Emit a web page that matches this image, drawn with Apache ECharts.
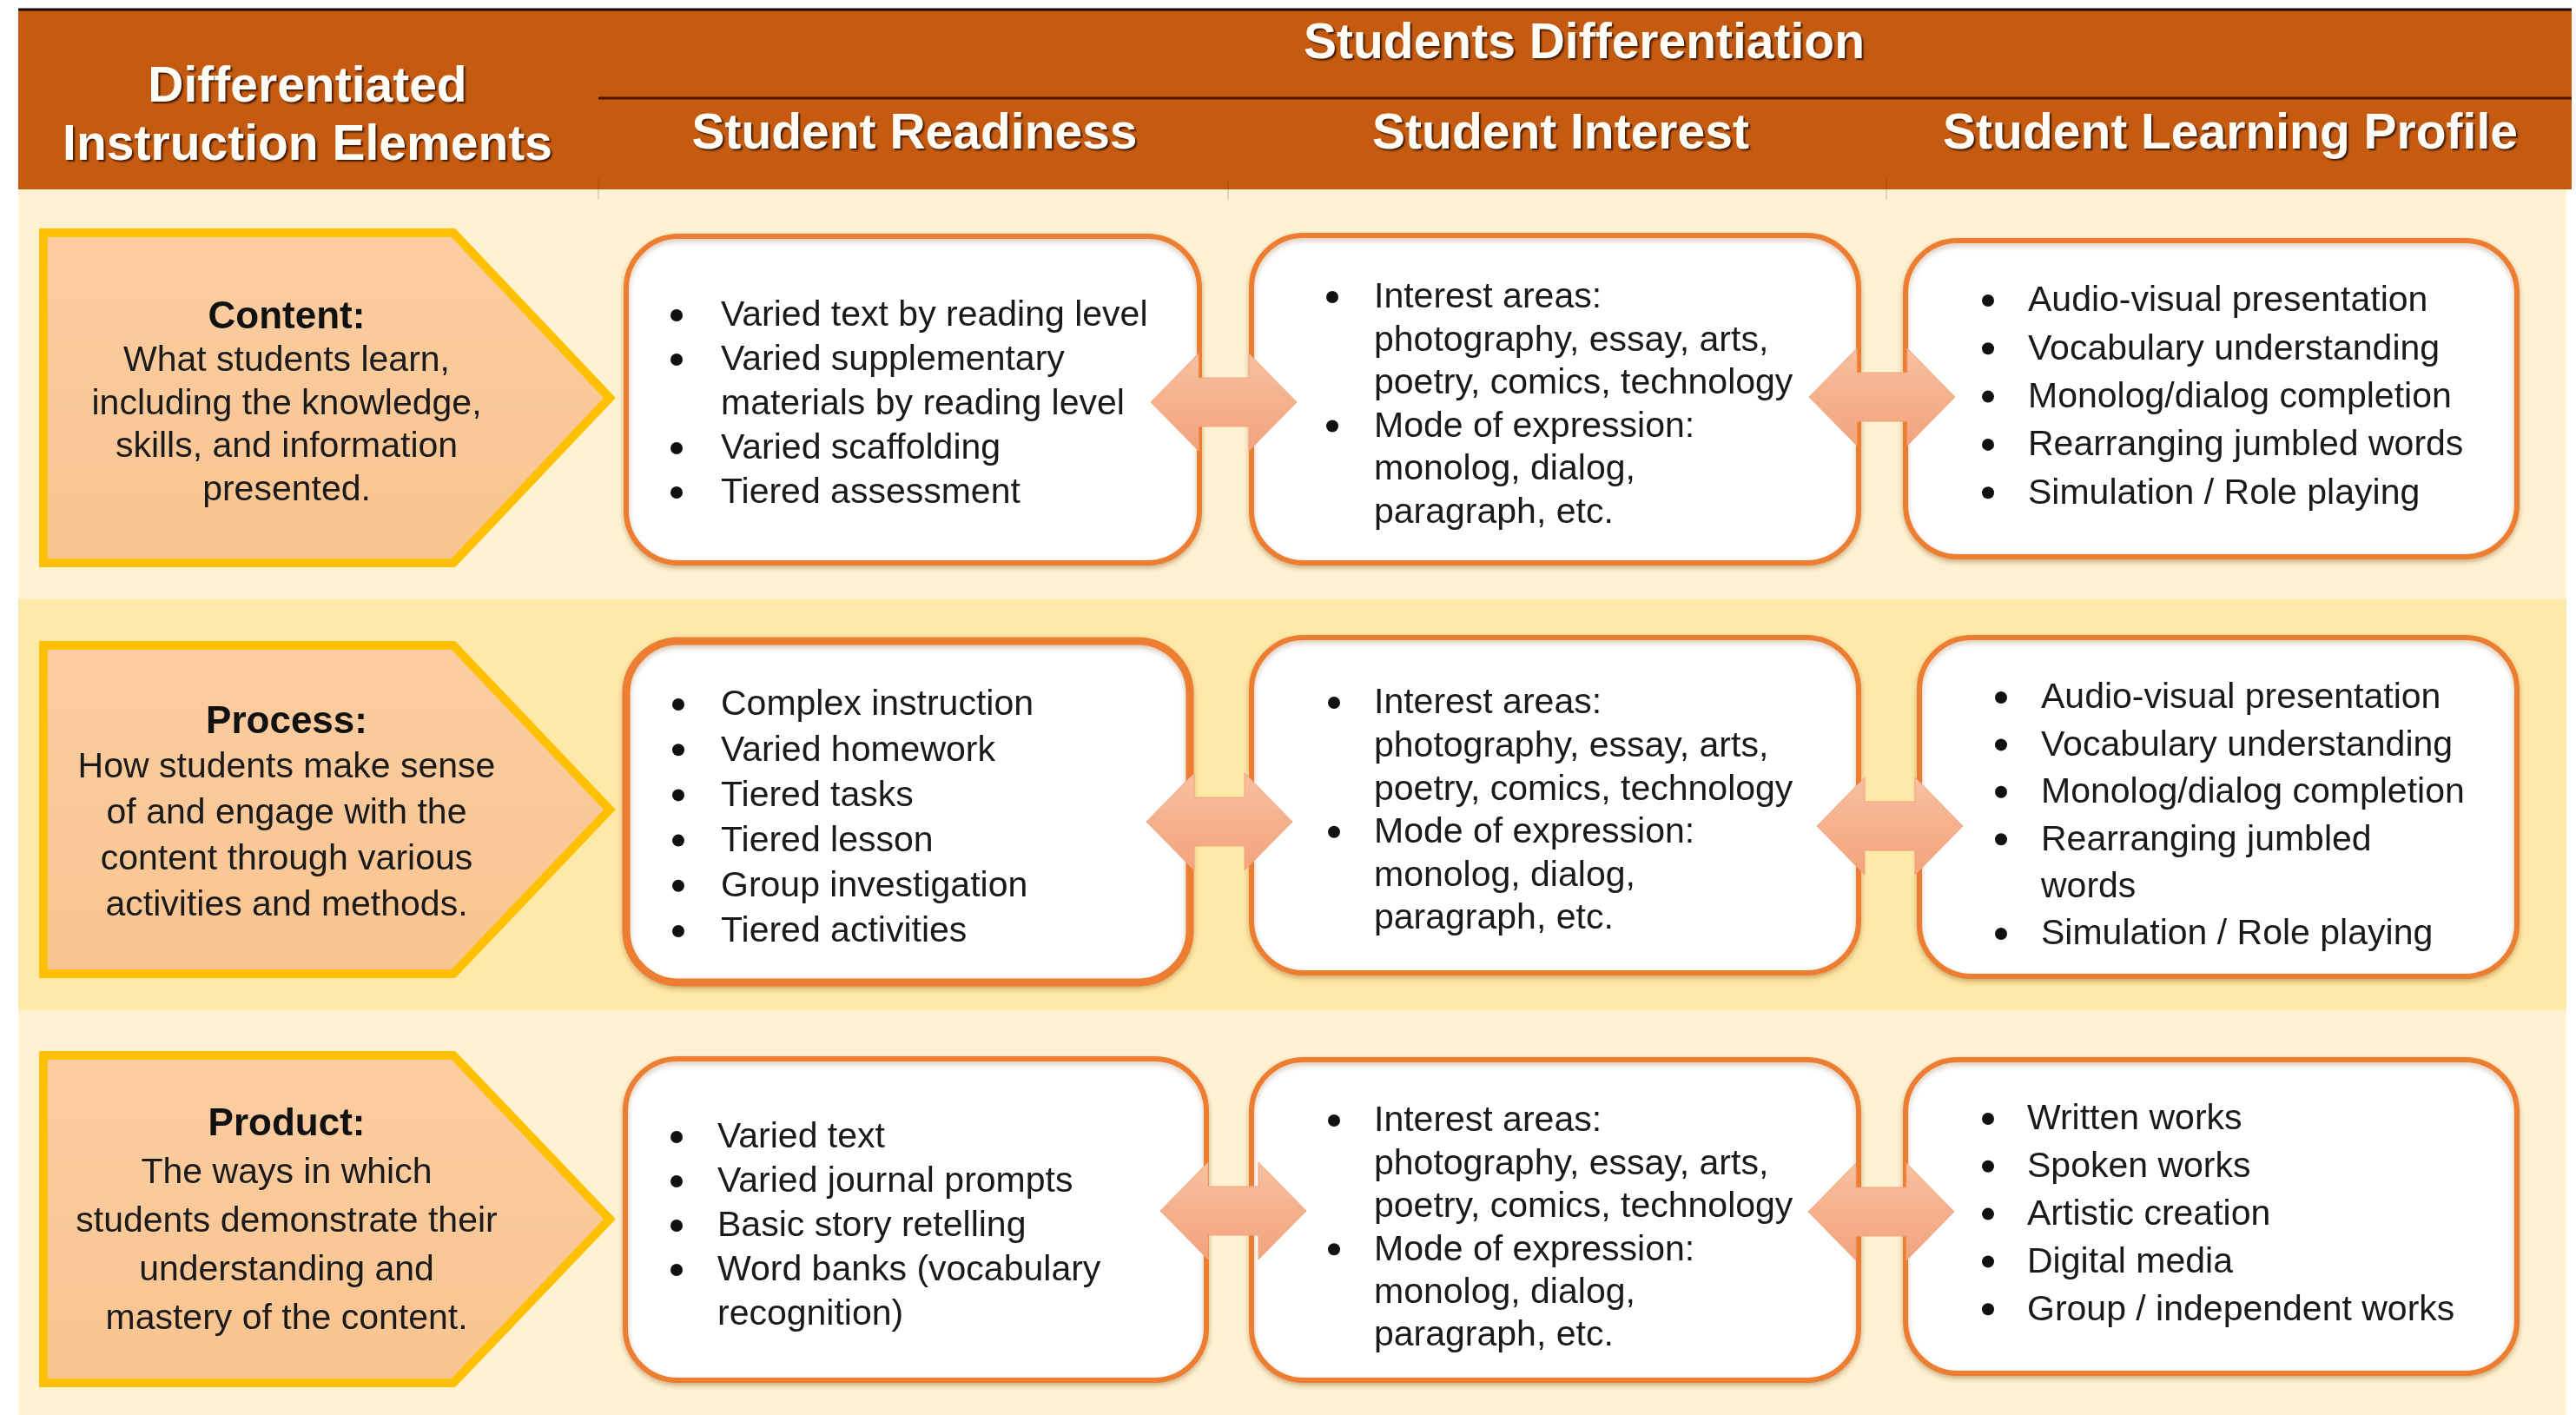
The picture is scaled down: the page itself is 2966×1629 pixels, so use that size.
<!DOCTYPE html>
<html><head><meta charset="utf-8">
<script src="https://cdn.jsdelivr.net/npm/echarts@6/dist/echarts.min.js"></script>
<style>html,body{margin:0;padding:0;background:#fff}#c{width:2966px;height:1629px}</style>
</head><body><div id="c"></div>
<script>
// ---------- DATA (texts) ----------
const headerLeft = ['Differentiated', 'Instruction Elements'];
const headerTop = ['Students Differentiation'];
const columnHeaders = ['Student Readiness', 'Student Interest', 'Student Learning Profile'];
const elementTitles = ['Content:', 'Process:', 'Product:'];
const elementDescriptions = [
  ['What students learn,', 'including the knowledge,', 'skills, and information', 'presented.'],
  ['How students make sense', 'of and engage with the', 'content through various', 'activities and methods.'],
  ['The ways in which', 'students demonstrate their', 'understanding and', 'mastery of the content.']
];
const readinessItems = [
  [['Varied text by reading level'], ['Varied supplementary', 'materials by reading level'], ['Varied scaffolding'], ['Tiered assessment']],
  [['Complex instruction'], ['Varied homework'], ['Tiered tasks'], ['Tiered lesson'], ['Group investigation'], ['Tiered activities']],
  [['Varied text'], ['Varied journal prompts'], ['Basic story retelling'], ['Word banks (vocabulary', 'recognition)']]
];
const interestItems = [
  [['Interest areas:', 'photography, essay, arts,', 'poetry, comics, technology'], ['Mode of expression:', 'monolog, dialog,', 'paragraph, etc.']],
  [['Interest areas:', 'photography, essay, arts,', 'poetry, comics, technology'], ['Mode of expression:', 'monolog, dialog,', 'paragraph, etc.']],
  [['Interest areas:', 'photography, essay, arts,', 'poetry, comics, technology'], ['Mode of expression:', 'monolog, dialog,', 'paragraph, etc.']]
];
const profileItems = [
  [['Audio-visual presentation'], ['Vocabulary understanding'], ['Monolog/dialog completion'], ['Rearranging jumbled words'], ['Simulation / Role playing']],
  [['Audio-visual presentation'], ['Vocabulary understanding'], ['Monolog/dialog completion'], ['Rearranging jumbled', 'words'], ['Simulation / Role playing']],
  [['Written works'], ['Spoken works'], ['Artistic creation'], ['Digital media'], ['Group / independent works']]
];

// ---------- LAYOUT / STYLE ----------
const W = 2966, H = 1629;
const FONT = '"Liberation Sans", Arial, Helvetica, sans-serif';
const DY = 4; // vertical text nudge
const headerRect = [21, 11, 2961, 218];
const bandX = [21, 2955];
const bandRows = [[218, 690], [690, 1163], [1163, 1629]];
const bandColors = ['#FFF2D2', '#FFE9A8', '#FFF2D2'];
const pentagonRows = [[268, 648], [743, 1121], [1215, 1592]];
const pentX = [50, 522, 702];
const leftText = [
  {title: 362, y0: 412, step: 49.5},
  {title: 828, y0: 880, step: 53},
  {title: 1291, y0: 1347, step: 56}
];
const leftCx = 330;
const boxLayout = [
  [
    {rect: [721, 272, 1381, 648], bx: 779, tx: 830, y0: 360, step: 51},
    {rect: [1441, 271, 2140, 648], bx: 1534, tx: 1582, y0: 339, step: 49.5},
    {rect: [2194, 277, 2898, 641], bx: 2289, tx: 2335, y0: 343, step: 55.3}
  ],
  [
    {rect: [721, 738, 1370, 1131], bx: 781, tx: 830, y0: 808, step: 52.2, lw: 9},
    {rect: [1441, 734, 2140, 1120], bx: 1536, tx: 1582, y0: 806, step: 49.6},
    {rect: [2210, 734, 2898, 1124], bx: 2304, tx: 2350, y0: 800, step: 54.4}
  ],
  [
    {rect: [720, 1219, 1389, 1589], bx: 779, tx: 826, y0: 1306, step: 51},
    {rect: [1441, 1220, 2140, 1589], bx: 1536, tx: 1582, y0: 1287, step: 49.4},
    {rect: [2194, 1220, 2898, 1581], bx: 2289, tx: 2334, y0: 1285, step: 54.8}
  ]
];
const arrowCenters = [
  [[1409, 463], [2167, 457]],
  [[1404, 946], [2176, 951]],
  [[1420, 1394], [2166, 1395]]
];
const arrowShape = [[-84, 0], [-29, -56], [-29, -28], [29, -28], [29, -56], [84, 0], [29, 56], [29, 28], [-29, 28], [-29, 56]];
const headerCenters = {left: [354, [101, 168]], top: [1824, 51], cols: [[1053, 155], [1797, 155], [2568, 155]]};

// ---------- BUILD TEXT MARKS ----------
const columnItems = [readinessItems, interestItems, profileItems];
const textMarks = [];
const headerStyle = {fill: '#FFFDF5', font: 'bold 57px ' + FONT, shadow: true};
headerLeft.forEach((t, i) => textMarks.push({x: headerCenters.left[0], y: headerCenters.left[1][i], text: t, align: 'center', s: headerStyle}));
headerTop.forEach(t => textMarks.push({x: headerCenters.top[0], y: headerCenters.top[1], text: t, align: 'center', s: headerStyle}));
columnHeaders.forEach((t, i) => textMarks.push({x: headerCenters.cols[i][0], y: headerCenters.cols[i][1], text: t, align: 'center', s: headerStyle}));
elementTitles.forEach((t, r) => {
  textMarks.push({x: leftCx, y: leftText[r].title + DY, text: t, align: 'center', s: {fill: '#111', font: 'bold 44px ' + FONT}});
  elementDescriptions[r].forEach((line, k) => textMarks.push({x: leftCx, y: leftText[r].y0 + k * leftText[r].step + DY, text: line, align: 'center', s: {fill: '#1a1a1a', font: '41px ' + FONT}}));
});
for (let r = 0; r < 3; r++) {
  for (let c = 0; c < 3; c++) {
    const L = boxLayout[r][c];
    let li = 0;
    columnItems[c][r].forEach(item => {
      item.forEach((line, k) => {
        const y = L.y0 + li * L.step + DY;
        if (k === 0) textMarks.push({x: L.bx, y: y, bullet: true});
        textMarks.push({x: L.tx, y: y, text: line, align: 'left', s: {fill: '#1a1a1a', font: '41px ' + FONT}});
        li++;
      });
    });
  }
}

const rowIdx = bandRows.map((_, i) => [i]);
const boxIdx = [];
const arrowIdx = [];
for (let r = 0; r < 3; r++) { for (let c = 0; c < 3; c++) boxIdx.push([r, c]); for (let a = 0; a < 2; a++) arrowIdx.push([r, a]); }

function rectFrom(api, x0, y0, x1, y1) {
  const a = api.coord([x0, y0]), b = api.coord([x1, y1]);
  return {x: a[0], y: a[1], width: b[0] - a[0], height: b[1] - a[1]};
}

const chart = echarts.init(document.getElementById('c'));
chart.setOption({
  animation: false,
  backgroundColor: '#FFFFFF',
  grid: {left: 0, right: 0, top: 0, bottom: 0},
  xAxis: {type: 'value', min: 0, max: W, show: false},
  yAxis: {type: 'value', min: 0, max: H, inverse: true, show: false},
  series: [
    { // row bands
      type: 'custom', silent: true, data: rowIdx,
      renderItem: (params, api) => {
        const i = params.dataIndex, y = bandRows[i];
        return {type: 'rect', shape: rectFrom(api, bandX[0], y[0], bandX[1], y[1]), style: {fill: bandColors[i]}};
      }
    },
    { // header
      type: 'custom', silent: true, data: [[0]],
      renderItem: (params, api) => {
        const a = api.coord([headerRect[0], headerRect[1]]), b = api.coord([headerRect[2], headerRect[3]]);
        const m0 = api.coord([689, 113]);
        const children = [
          {type: 'rect', shape: rectFrom(api, ...headerRect), style: {fill: '#C55A11'}},
          {type: 'line', shape: {x1: a[0], y1: a[1], x2: b[0], y2: a[1]}, style: {stroke: '#1a0a00', lineWidth: 3}},
          {type: 'line', shape: {x1: m0[0], y1: m0[1], x2: b[0], y2: m0[1]}, style: {stroke: '#4a1600', lineWidth: 3}}
        ];
        [689, 1414, 2172].forEach(x => {
          const p = api.coord([x, 205]), q = api.coord([x, 230]);
          children.push({type: 'line', shape: {x1: p[0], y1: p[1], x2: q[0], y2: q[1]}, style: {stroke: 'rgba(120,60,20,0.35)', lineWidth: 1}});
        });
        return {type: 'group', children};
      }
    },
    { // pentagons
      type: 'custom', silent: true, data: rowIdx,
      renderItem: (params, api) => {
        const y = pentagonRows[params.dataIndex], ym = (y[0] + y[1]) / 2;
        const pts = [[pentX[0], y[0]], [pentX[1], y[0]], [pentX[2], ym], [pentX[1], y[1]], [pentX[0], y[1]]].map(p => api.coord(p));
        return {type: 'polygon', shape: {points: pts},
          style: {fill: new echarts.graphic.LinearGradient(0, 0, 0, 1, [{offset: 0, color: '#FBCDA2'}, {offset: 1, color: '#F9C48F'}]),
                  stroke: '#FFC000', lineWidth: 10, lineJoin: 'miter'}};
      }
    },
    { // content boxes
      type: 'custom', silent: true, data: boxIdx,
      renderItem: (params, api) => {
        const [r, c] = boxIdx[params.dataIndex];
        const L = boxLayout[r][c];
        const sh = rectFrom(api, ...L.rect);
        sh.r = 60;
        return {type: 'rect', shape: sh,
          style: {fill: '#FFFFFF', stroke: '#ED7D31', lineWidth: L.lw || 6,
                  shadowColor: 'rgba(120,60,0,0.30)', shadowBlur: 6, shadowOffsetY: 3}};
      }
    },
    { // double arrows
      type: 'custom', silent: true, data: arrowIdx,
      renderItem: (params, api) => {
        const [r, a] = arrowIdx[params.dataIndex];
        const c = arrowCenters[r][a];
        const pts = arrowShape.map(p => api.coord([c[0] + p[0], c[1] + p[1]]));
        return {type: 'polygon', shape: {points: pts},
          style: {fill: new echarts.graphic.LinearGradient(0, 0, 0, 1, [{offset: 0, color: '#F7C2A1'}, {offset: 0.5, color: '#F5B08C'}, {offset: 1, color: '#F2A47E'}]),
                  stroke: '#F0A47C', lineWidth: 1}};
      }
    },
    { // all texts and bullets
      type: 'custom', silent: true, data: textMarks.map(t => [t.x, t.y]),
      renderItem: (params, api) => {
        const t = textMarks[params.dataIndex];
        const p = api.coord([api.value(0), api.value(1)]);
        if (t.bullet) {
          return {type: 'circle', shape: {cx: p[0], cy: p[1] - 1, r: 7}, style: {fill: '#111'}};
        }
        const style = {text: t.text, x: p[0], y: p[1], fill: t.s.fill, font: t.s.font, align: t.align, verticalAlign: 'middle'};
        if (t.s.shadow) {
          style.textShadowColor = 'rgba(40,10,0,0.85)';
          style.textShadowBlur = 2;
          style.textShadowOffsetX = 2;
          style.textShadowOffsetY = 2;
        }
        return {type: 'text', style};
      }
    }
  ]
});
</script></body></html>
